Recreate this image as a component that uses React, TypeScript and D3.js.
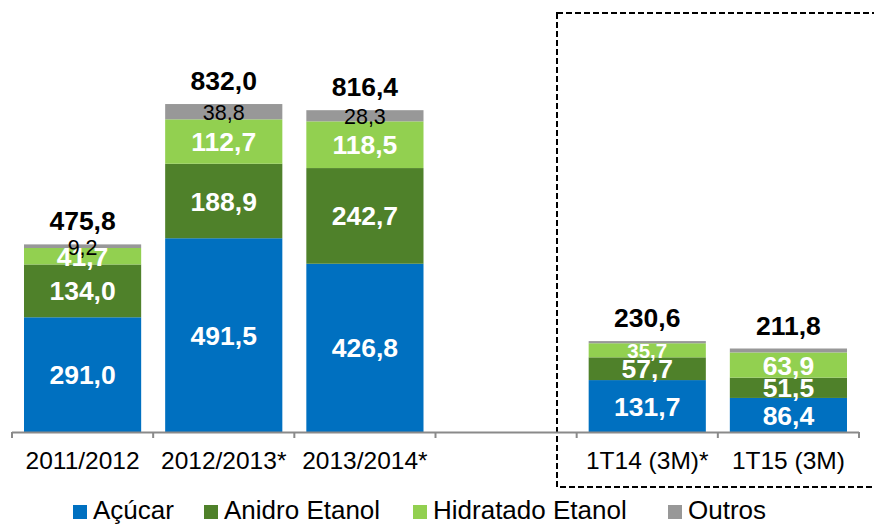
import React from "react";
import * as d3 from "d3";

const categories = ["2011/2012", "2012/2013*", "2013/2014*", "", "1T14 (3M)*", "1T15 (3M)"];
const acucar = [291.0, 491.5, 426.8, null, 131.7, 86.4];
const anidro = [134.0, 188.9, 242.7, null, 57.7, 51.5];
const hidratado = [41.7, 112.7, 118.5, null, 35.7, 63.9];
const outros = [9.2, 38.8, 28.3, null, 5.5, 10.0];
const outrosShown = [true, true, true, false, false, false];
const totals = [475.8, 832.0, 816.4, null, 230.6, 211.8];
const seriesNames = ["Açúcar", "Anidro Etanol", "Hidratado Etanol", "Outros"];

const W = 874;
const H = 525;
const FONT = "'Liberation Sans', Arial, Helvetica, sans-serif";
const colors = ["#0070C0", "#4F812A", "#92D050", "#989898"];
const fmt = (v: number) => v.toFixed(1).replace(".", ",");

export default function App() {
  const x = d3.scaleBand<string>().domain(categories.map((c, i) => String(i))).range([12, 859]).padding(0);
  const y = d3.scaleLinear().domain([0, 832]).range([432, 104]);
  const barW = x.bandwidth() * 0.83;
  const series = [acucar, anidro, hidratado, outros];

  const bars: React.ReactNode[] = [];
  const labels: React.ReactNode[] = [];
  categories.forEach((cat, i) => {
    if (totals[i] == null) return;
    const cx = (x(String(i)) as number) + x.bandwidth() / 2;
    let acc = 0;
    series.forEach((s, si) => {
      const v = s[i] as number;
      const y0 = y(acc);
      const y1 = y(acc + v);
      acc += v;
      bars.push(
        <rect key={`b${i}-${si}`} x={cx - barW / 2} y={y1} width={barW} height={y0 - y1} fill={colors[si]} />
      );
      const segH = y0 - y1;
      const mid = (y0 + y1) / 2;
      if (si < 3) {
        const fs = segH >= 16 ? 26.5 : 20.5;
        labels.push(
          <text key={`l${i}-${si}`} x={cx} y={mid + fs * 0.36} textAnchor="middle" fill="#fff" fontWeight="bold" fontSize={fs} fontFamily={FONT}>
            {fmt(v)}
          </text>
        );
      } else if (outrosShown[i]) {
        labels.push(
          <text key={`l${i}-${si}`} x={cx} y={mid + 21 * 0.36 + 1} textAnchor="middle" fill="#000" fontSize={21.5} fontFamily={FONT}>
            {fmt(v)}
          </text>
        );
      }
    });
    labels.push(
      <text key={`t${i}`} x={cx} y={y(acc) - 14} textAnchor="middle" fill="#000" fontWeight="bold" fontSize={26.5} fontFamily={FONT}>
        {fmt(totals[i] as number)}
      </text>
    );
  });

  const ticks = categories.map((c, i) => x(String(i)) as number).concat([x.range()[1]]);

  const legendX = [73, 204, 413, 668];

  return (
    <svg width={W} height={H} style={{ position: "absolute", left: 0, top: 0, background: "#fff" }}>
      <rect x={0} y={0} width={W} height={H} fill="#fff" />
      <rect x={557} y={13} width={330} height={474} fill="none" stroke="#000" strokeWidth={2} strokeDasharray="6,3" />
      {bars}
      <line x1={ticks[0]} x2={ticks[ticks.length - 1]} y1={432.5} y2={432.5} stroke="#8a8a8a" strokeWidth={2} />
      {ticks.map((t, i) => (
        <line key={`tk${i}`} x1={t} x2={t} y1={432} y2={438} stroke="#8a8a8a" strokeWidth={2} />
      ))}
      {categories.map((c, i) => (
        <text key={`c${i}`} x={(x(String(i)) as number) + x.bandwidth() / 2} y={469} textAnchor="middle" fontSize={24.5} fontFamily={FONT} fill="#000">
          {c}
        </text>
      ))}
      {labels}
      {seriesNames.map((n, i) => (
        <g key={`lg${i}`}>
          <rect x={legendX[i]} y={505} width={14} height={14} fill={colors[i]} />
          <text x={legendX[i] + 20} y={519} fontSize={26} fontFamily={FONT} fill="#000">
            {n}
          </text>
        </g>
      ))}
    </svg>
  );
}
